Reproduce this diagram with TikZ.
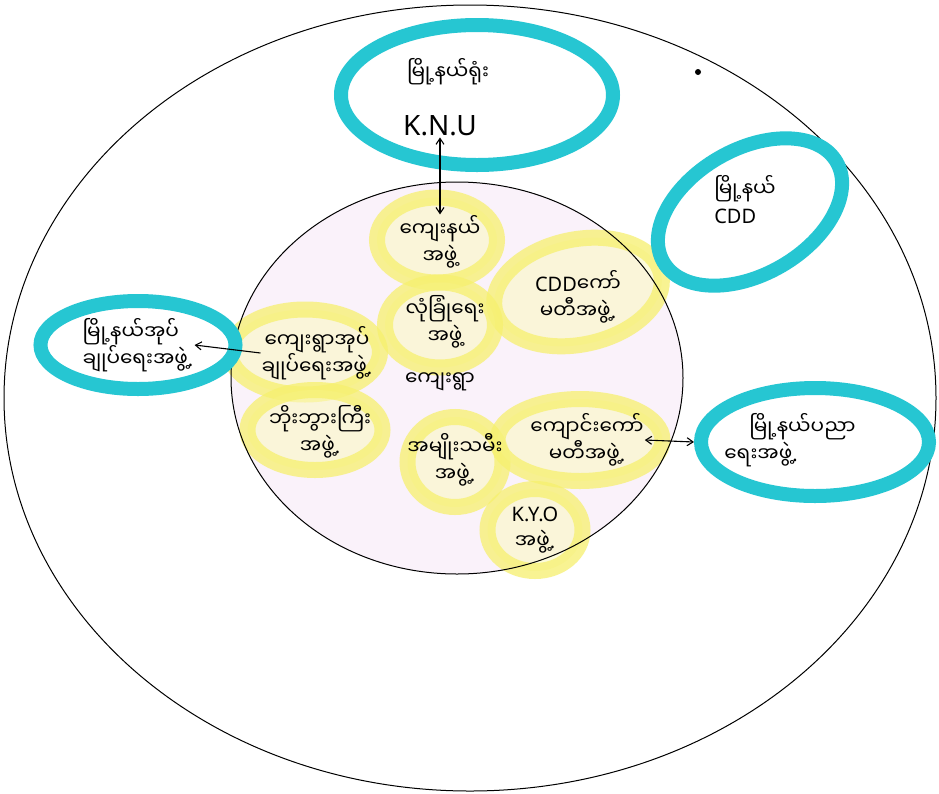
\documentclass[tikz,border=0pt]{standalone}
\usepackage{fontspec}
\setmainfont{Noto Sans}
\newfontfamily\mm[Script=Myanmar]{Noto Sans Myanmar UI}
\newfontfamily\lat{Noto Sans}
\newcommand{\pd}{{\lat .}}
\usetikzlibrary{shapes.geometric,arrows.meta}
\definecolor{hlY}{RGB}{246,240,110}
\definecolor{cyanM}{RGB}{38,198,210}
\definecolor{innerbg}{RGB}{250,242,250}
\tikzset{
  cyanring/.style={ellipse, draw=cyanM, line width=14pt, fill=white, inner sep=0pt},
  yblob/.style={ellipse, draw=hlY, line width=16pt, fill=hlY!45, draw opacity=0.75, fill opacity=0.55, inner sep=0pt},
  lbl/.style={font=\mm\fontsize{20}{27}\selectfont, align=center, inner sep=1pt, text=black},
  conn/.style={line width=1.1pt, -{Straight Barb[length=6pt,width=8pt]}},
  conn2/.style={line width=1.1pt, {Straight Barb[length=6pt,width=8pt]}-{Straight Barb[length=6pt,width=8pt]}}
}
\begin{document}
\begin{tikzpicture}[x=1pt,y=-1pt]
\useasboundingbox (0,0) rectangle (939,793);
\fill[white] (0,0) rectangle (939,793);
% outer ellipse
\node[ellipse, draw, line width=1pt, minimum width=932pt, minimum height=786pt, inner sep=0pt] (outer) at (470,398) {};
% inner circle fill
\fill[innerbg] (457,378) ellipse [x radius=226, y radius=196];
% yellow blobs
\node[yblob, minimum width=120pt, minimum height=85pt] (b1) at (437,240) {};
\node[yblob, minimum width=170pt, minimum height=105pt, rotate=12] (b2) at (578,292) {};
\node[yblob, minimum width=110pt, minimum height=85pt] (b3) at (440,325) {};
\node[yblob, minimum width=150pt, minimum height=85pt] (b4) at (305,352) {};
\node[yblob, minimum width=135pt, minimum height=80pt] (b5) at (315,430) {};
\node[yblob, minimum width=95pt, minimum height=90pt] (b6) at (455,462) {};
\node[yblob, minimum width=165pt, minimum height=82pt] (b7) at (580,440) {};
\node[yblob, minimum width=95pt, minimum height=82pt] (b8) at (535,530) {};
% inner circle outline
\node[ellipse, draw, line width=1pt, minimum width=452pt, minimum height=392pt, inner sep=0pt] (inner) at (457,378) {};
% cyan rings
\node[cyanring, minimum width=272pt, minimum height=140pt] (ctop) at (477,95) {};
\node[cyanring, minimum width=200pt, minimum height=125pt, rotate=30] (ccdd) at (750,212) {};
\node[cyanring, minimum width=195pt, minimum height=88pt] (cleft) at (138,345) {};
\node[cyanring, minimum width=228pt, minimum height=108pt] (cright) at (815,442) {};
% cyan texts
\node[lbl] (t1) at (448,72) {မြို့နယ်ရုံး};
\node[lbl, font=\lat\fontsize{28}{30}\selectfont] (t2) at (440,126) {K\pd N\pd U};
\node[lbl, align=left] (t3) at (745,200) {မြို့နယ်\\{\lat CDD}};
\node[lbl, align=left] (t4) at (138,345) {မြို့နယ်အုပ်\\ချုပ်ရေးအဖွဲ့\pd};
\node[lbl, align=left] (t5) at (790,440) {\hspace*{25pt}မြို့နယ်ပညာ\\ရေးအဖွဲ့\pd};
% inner texts
\node[lbl] (k1) at (440,242) {ကျေးနယ်\\အဖွဲ့};
\node[lbl] (k2) at (578,297) {{\lat CDD}ကော်\\မတီအဖွဲ့\pd};
\node[lbl] (k3) at (445,322) {လုံခြုံရေး\\အဖွဲ့};
\node[lbl] (k4) at (440,382) {ကျေးရွာ};
\node[lbl] (k5) at (317,353) {ကျေးရွာအုပ်\\ချုပ်ရေးအဖွဲ့\pd};
\node[lbl] (k6) at (320,432) {ဘိုးဘွားကြီး\\အဖွဲ့\pd};
\node[lbl] (k7) at (455,460) {အမျိုးသမီး\\အဖွဲ့\pd};
\node[lbl] (k8) at (587,440) {ကျောင်းကော်\\မတီအဖွဲ့\pd};
\node[lbl] (k9) at (535,530) {{\lat K\pd Y\pd O}\\အဖွဲ့\pd};
% connectors
\draw[conn2] (t2.south) -- (k1.north);
\draw[conn] (k5.west) -- (t4.east);
\draw[conn2] (k8.east) -- (cright.west);
% ink speck
\fill (698,72) circle (3pt);
\end{tikzpicture}
\end{document}
